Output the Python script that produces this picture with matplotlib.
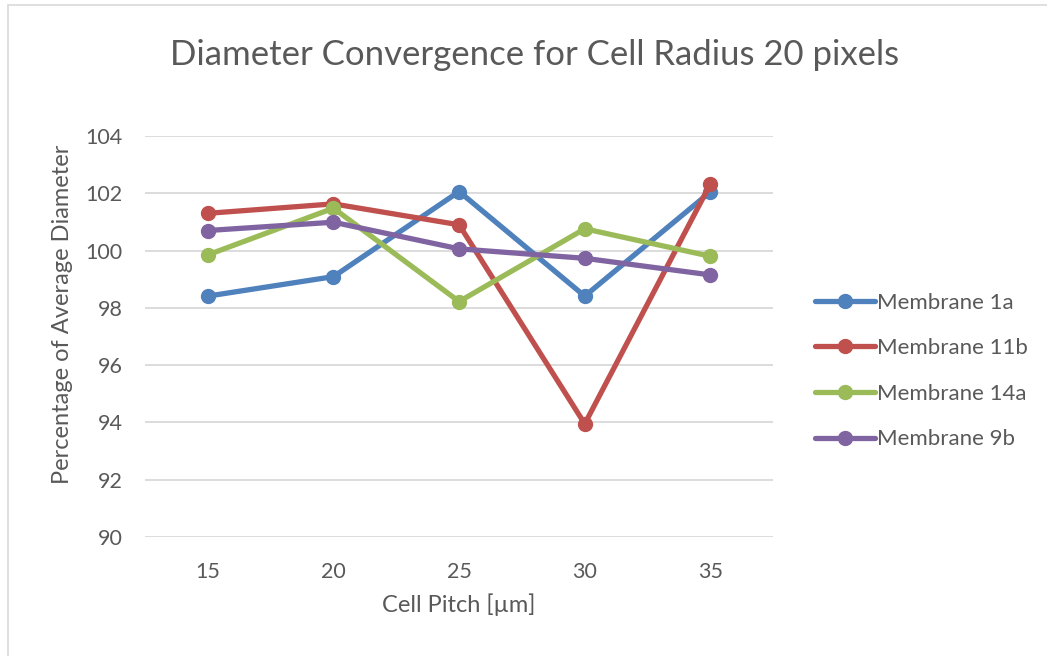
import matplotlib
matplotlib.use("Agg")
import matplotlib.pyplot as plt
from matplotlib.patches import Rectangle

plt.rcParams["font.family"] = ["Lato", "DejaVu Sans"]

# 数据
cell_pitch = ["15", "20", "25", "30", "35"]
membrane_1a = [98.41, 99.09, 102.06, 98.41, 102.05]
membrane_11b = [101.30, 101.63, 100.90, 93.95, 102.33]
membrane_14a = [99.85, 101.48, 98.22, 100.76, 99.80]
membrane_9b = [100.70, 100.99, 100.06, 99.73, 99.15]
series_names = ["Membrane 1a", "Membrane 11b", "Membrane 14a", "Membrane 9b"]
y_ticks = [90, 92, 94, 96, 98, 100, 102, 104]

_COLORS = ["#4F81BD", "#C0504D", "#9BBB59", "#8064A2"]
TEXT = "#595959"

fig = plt.figure(figsize=(10.47, 6.56), dpi=100)
fig.patch.set_facecolor("white")
fig.patches.append(Rectangle((8 / 1047, -0.01), 1.1, 1 - 5 / 656 + 0.01,
                             transform=fig.transFigure, fill=False,
                             edgecolor="#D9D9D9", linewidth=1.2))

ax = fig.add_axes([0.1385, 0.1814, 0.6, 0.6113])
x = range(len(cell_pitch))
for vals, name, c in zip([membrane_1a, membrane_11b, membrane_14a, membrane_9b],
                         series_names, _COLORS):
    ax.plot(x, vals, color=c, linewidth=3.8, marker="o", markersize=10,
            label=name, solid_capstyle="round", solid_joinstyle="round")

ax.set_xlim(-0.5, len(cell_pitch) - 0.5)
ax.set_ylim(90, 104)
ax.set_xticks(list(x))
ax.set_xticklabels(cell_pitch)
ax.set_yticks(y_ticks)
ax.tick_params(length=0, labelsize=15.5, colors=TEXT)
ax.tick_params(axis="x", pad=18)
ax.tick_params(axis="y", pad=16)
ax.grid(axis="y", color="#D9D9D9", linewidth=1.3)
ax.set_axisbelow(True)
for s in ax.spines.values():
    s.set_visible(False)

ax.set_xlabel("Cell Pitch [µm]", fontsize=17, color=TEXT, labelpad=8)
ax.set_ylabel("Percentage of Average Diameter", fontsize=17, color=TEXT)
ax.yaxis.set_label_coords(-0.115, 0.555)
fig.text(0.511, 0.916, "Diameter Convergence for Cell Radius 20 pixels",
         ha="center", va="center", fontsize=25, color=TEXT)

leg = ax.legend(loc="center left", bbox_to_anchor=(1.035, 0.414), frameon=False,
                fontsize=16, handlelength=2.7, handletextpad=0.1, labelspacing=1.15,
                labelcolor=TEXT)

fig.savefig("out.png", dpi=100, facecolor="white")
plt.close(fig)
